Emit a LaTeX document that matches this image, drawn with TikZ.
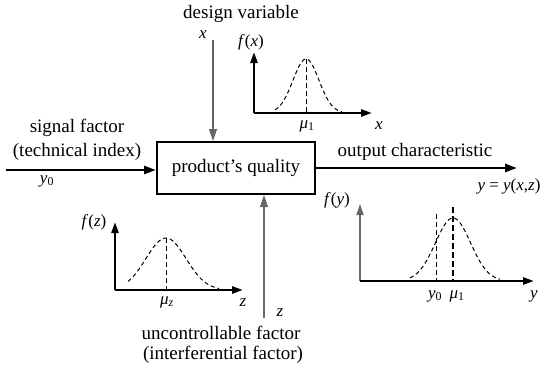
\documentclass[tikz,border=0pt]{standalone}
\usepackage{fontspec}
\setmainfont{Liberation Serif}
\usetikzlibrary{arrows.meta}
\newcommand\vi[1]{\textit{#1}}
\begin{document}
\begin{tikzpicture}[x=1pt,y=-1pt,
  lbl/.style={inner sep=0pt,font=\fontsize{19}{21}\selectfont},
  sml/.style={inner sep=0pt,font=\fontsize{17}{19}\selectfont},
  tip/.style={-{Triangle[length=12pt,width=8pt]}},
  mainarr/.style={tip,line width=2.7pt},
  thinarr/.style={tip,line width=1.3pt,draw=black!60},
  axis/.style={-{Triangle[length=11pt,width=7pt]},line width=2.5pt},
  curve/.style={dashed,line width=1pt,dash pattern=on 4pt off 3pt},
  mid/.style={dashed,line width=0.9pt,dash pattern=on 5pt off 3pt}]
\useasboundingbox (0,0) rectangle (560,367);
% main box
\node[draw,line width=2pt,minimum width=158pt,minimum height=52pt,inner sep=0pt,lbl] (box) at (236,168) {product's quality};
% input
\coordinate (in) at (6,170);
\draw[mainarr] (in) -- (box.west |- in);
\node[lbl] (sf) at (77,128) {signal factor};
\node[lbl] (ti) at (77,152) {(technical index)};
\node[sml] (y0) at (47,181) {\vi{y}\textsubscript{0}};
% design variable
\coordinate (dvs) at (213,40);
\draw[thinarr] (dvs) -- (box.north -| dvs);
\node[lbl] (dv) at (241,14) {design variable};
\node[sml] (xl) at (203,35) {\vi{x}};
% output
\coordinate (out) at (517,168);
\draw[mainarr] (box.east |- out) -- (out);
\node[lbl] (oc) at (415,152) {output characteristic};
\node[sml] (yeq) at (509,186) {\vi{y} = \vi{y}(\vi{x},\vi{z})};
% z input
\coordinate (zs) at (264,318);
\draw[thinarr] (zs) -- (box.south -| zs);
\node[sml] (zl) at (280,313) {\vi{z}};
\node[lbl] (uf) at (221,333) {uncontrollable factor};
\node[lbl] (if) at (223,355) {(interferential factor)};
% f(x) plot
\coordinate (ox) at (254,113);
\coordinate (oxt) at (254,52);
\coordinate (oxr) at (372,113);
\draw[axis] (ox) -- (oxt);
\draw[axis] (ox) -- (oxr);
\draw[curve] plot[domain=275:342,samples=50] (\x,{113-54*exp(-((\x-306)^2)/338)});
\coordinate (px) at (306,59);
\draw[mid] (px) -- (px |- ox);
\node[sml] (fx) at (251,42) {\vi{f}(\vi{x})};
\node[sml] (mux) at (307,126) {\vi{μ}\textsubscript{1}};
\node[sml] (xax) at (379,126) {\vi{x}};
% f(z) plot
\coordinate (oz) at (115,290);
\coordinate (ozt) at (115,222);
\coordinate (ozr) at (243,290);
\draw[axis] (oz) -- (ozt);
\draw[axis] (oz) -- (ozr);
\draw[curve] plot[domain=128:219,samples=50] (\x,{290-52*exp(-((\x-166)^2)/800)});
\coordinate (pz) at (166,238);
\draw[mid] (pz) -- (pz |- oz);
\node[sml] (fz) at (94,222) {\vi{f}(\vi{z})};
\node[sml] (muz) at (167,302) {\vi{μ}\textsubscript{\vi{z}}};
\node[sml] (zax) at (243,303) {\vi{z}};
% f(y) plot
\coordinate (oy) at (360,281);
\coordinate (oyt) at (360,204);
\coordinate (oyr) at (534,281);
\draw[-{Triangle[length=11pt,width=7pt]},line width=1.3pt,draw=black!60] (oy) -- (oyt);
\draw[axis] (oy) -- (oyr);
\draw[curve] plot[domain=410:500,samples=50] (\x,{281-63*exp(-((\x-453)^2)/617)});
\coordinate (py0) at (436,214);
\coordinate (pmu) at (453,207);
\draw[mid] (py0) -- (py0 |- oy);
\draw[dashed,line width=2pt,dash pattern=on 6pt off 3pt] (pmu) -- (pmu |- oy);
\node[sml] (fy) at (337,200) {\vi{f}(\vi{y})};
\node[sml] (y0b) at (435,296) {\vi{y}\textsubscript{0}};
\node[sml] (mu1) at (457,296) {\vi{μ}\textsubscript{1}};
\node[sml] (yax) at (534,296) {\vi{y}};
\end{tikzpicture}
\end{document}
